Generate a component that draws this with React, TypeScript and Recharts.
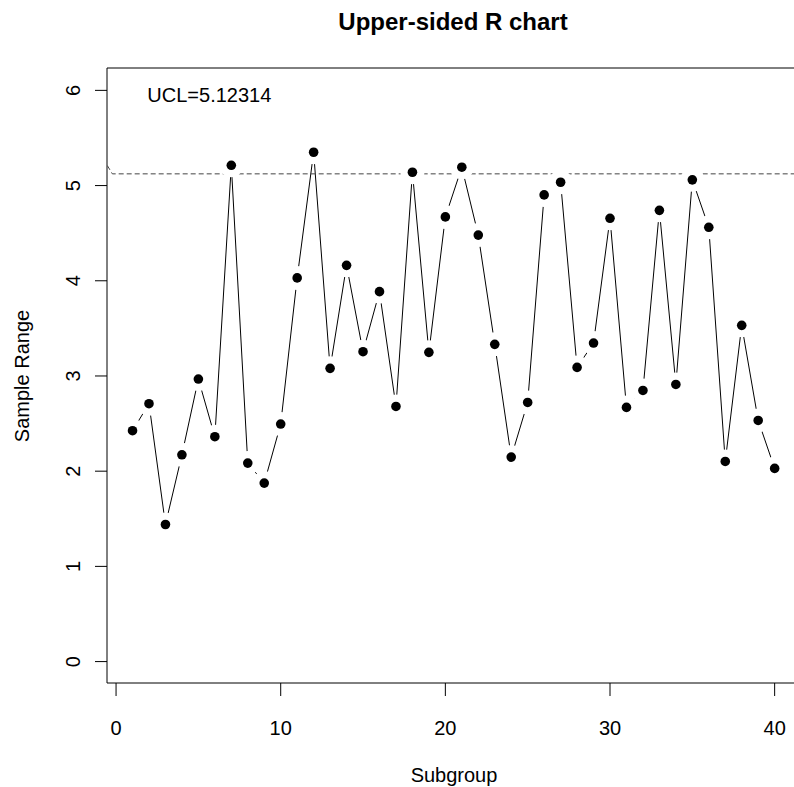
import { LineChart, Line, XAxis, YAxis, ReferenceArea, ReferenceDot } from "recharts";

const FONT = "'Liberation Sans', Arial, Helvetica, sans-serif";

const subgroups = [
  1, 2, 3, 4, 5, 6, 7, 8, 9, 10, 11, 12, 13, 14, 15, 16, 17, 18, 19, 20,
  21, 22, 23, 24, 25, 26, 27, 28, 29, 30, 31, 32, 33, 34, 35, 36, 37, 38, 39, 40,
];
const sampleRanges = [
  2.425, 2.709, 1.44, 2.172, 2.968, 2.362, 5.213, 2.085, 1.875, 2.495,
  4.03, 5.35, 3.08, 4.162, 3.255, 3.886, 2.68, 5.14, 3.248, 4.671,
  5.193, 4.48, 3.332, 2.148, 2.722, 4.902, 5.035, 3.09, 3.346, 4.656,
  2.67, 2.848, 4.74, 2.911, 5.06, 4.562, 2.102, 3.532, 2.533, 2.029,
];

const UCL = 5.12314;
// the limit line, with the short lead-in stroke at the left edge
const uclX = [-0.53, -0.225, 41.6];
const uclY = [5.21, UCL, UCL];

const xTicks = [0, 10, 20, 30, 40];
const yTicks = [0, 1, 2, 3, 4, 5, 6];
const xDomain: [number, number] = [-0.55, 41.6];
const yDomain: [number, number] = [-0.225, 6.235];

const rData = subgroups.map((s, i) => ({ x: s, r: sampleRanges[i] }));
const uclData = uclX.map((x, i) => ({ x, ucl: uclY[i] }));

const XTick = (props: any) => {
  const { x, y, payload } = props;
  return (
    <text x={x} y={y + 39} textAnchor="middle" fontSize={20} fontFamily={FONT} fill="#000">
      {payload.value}
    </text>
  );
};

const YTick = (props: any) => {
  const { x, y, payload } = props;
  const tx = x - 15;
  return (
    <text
      x={tx}
      y={y}
      transform={`rotate(-90 ${tx} ${y})`}
      textAnchor="middle"
      fontSize={20}
      fontFamily={FONT}
      fill="#000"
    >
      {payload.value}
    </text>
  );
};

// R's type="b": filled point with a gap in the connecting line around it
const GapDot = (props: any) => {
  const { cx, cy, index } = props;
  if (cx == null || cy == null) return <g key={`d-${index}`} />;
  return (
    <g key={`d-${index}`}>
      <circle cx={cx} cy={cy} r={12} fill="#fff" />
      <circle cx={cx} cy={cy} r={4.8} fill="#000" />
    </g>
  );
};

export default function App() {
  return (
    <div
      style={{
        position: "absolute",
        left: 0,
        top: 0,
        width: 794,
        height: 787,
        overflow: "hidden",
        background: "#fff",
      }}
    >
      <LineChart width={830} height={787} margin={{ top: 68, right: 29, bottom: 0, left: 0 }}>
        <XAxis
          type="number"
          dataKey="x"
          domain={xDomain}
          ticks={xTicks}
          interval={0}
          allowDataOverflow
          height={104}
          tickSize={13}
          tickMargin={0}
          axisLine={false}
          tickLine={{ stroke: "#000" }}
          tick={<XTick />}
        />
        <YAxis
          type="number"
          domain={yDomain}
          ticks={yTicks}
          interval={0}
          allowDataOverflow
          width={107}
          tickSize={12}
          tickMargin={0}
          axisLine={false}
          tickLine={{ stroke: "#000" }}
          tick={<YTick />}
        />
        <ReferenceArea
          x1={xDomain[0]}
          x2={xDomain[1]}
          y1={yDomain[0]}
          y2={yDomain[1]}
          fill="none"
          fillOpacity={0}
          stroke="#000"
          strokeWidth={1}
          ifOverflow="visible"
        />
        <Line
          data={rData}
          dataKey="r"
          type="linear"
          stroke="#000"
          strokeWidth={1}
          dot={GapDot}
          activeDot={false}
          isAnimationActive={false}
        />
        <Line
          data={uclData}
          dataKey="ucl"
          type="linear"
          stroke="#444"
          strokeWidth={1}
          strokeDasharray="5 3"
          dot={false}
          activeDot={false}
          isAnimationActive={false}
        />
        <ReferenceDot
          x={1.9}
          y={5.957}
          r={0}
          fill="none"
          stroke="none"
          ifOverflow="visible"
          label={{
            value: "UCL=5.12314",
            position: "right",
            offset: 0,
            fill: "#000",
            fontSize: 20,
            fontFamily: FONT,
          }}
        />
      </LineChart>
      <svg
        width={794}
        height={787}
        style={{ position: "absolute", left: 0, top: 0, pointerEvents: "none" }}
      >
        <text x={453} y={30} textAnchor="middle" fontSize={24} fontWeight="bold" fontFamily={FONT} fill="#000">
          Upper-sided R chart
        </text>
        <text x={454} y={782} textAnchor="middle" fontSize={20} fontFamily={FONT} fill="#000">
          Subgroup
        </text>
        <text
          x={29}
          y={376}
          transform="rotate(-90 29 376)"
          textAnchor="middle"
          fontSize={20}
          fontFamily={FONT}
          fill="#000"
        >
          Sample Range
        </text>
      </svg>
    </div>
  );
}
